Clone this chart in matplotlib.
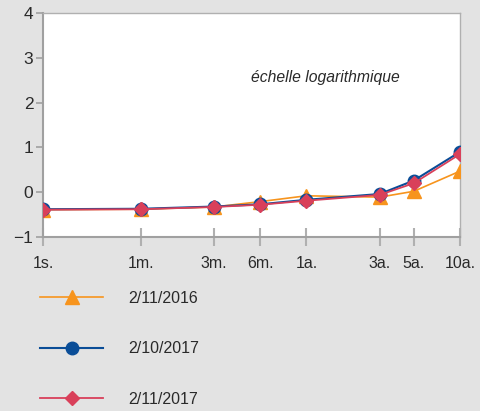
import matplotlib
matplotlib.use("Agg")
import matplotlib.pyplot as plt
import numpy as np

plt.rcParams['font.family'] = ['Liberation Sans', 'DejaVu Sans']

tick_labels = ["1s.", "1m.", "3m.", "6m.", "1a.", "3a.", "5a.", "10a."]
maturities_years = [1/52, 1/12, 0.25, 0.5, 1, 3, 5, 10]
labels = ["2/11/2016", "2/10/2017", "2/11/2017"]
s2016 = [-0.39, -0.38, -0.33, -0.21, -0.08, -0.11, 0.02, 0.47]
s2017_oct = [-0.38, -0.37, -0.32, -0.27, -0.17, -0.04, 0.26, 0.90]
s2017_nov = [-0.39, -0.38, -0.33, -0.28, -0.19, -0.06, 0.20, 0.85]

bg = '#e3e3e3'
fig = plt.figure(figsize=(4.8, 4.11), dpi=100, facecolor=bg)
ax = fig.add_axes([43/480, 1-237/411, (460-43)/480, (237-13)/411])
ax.set_facecolor('white')

ax.plot(maturities_years, s2016, color='#f7941d', lw=1.2, marker='^', ms=10,
        label=labels[0], zorder=3)
ax.plot(maturities_years, s2017_oct, color='#0a4d97', lw=1.5, marker='o', ms=9,
        label=labels[1], zorder=4)
ax.plot(maturities_years, s2017_nov, color='#d9405a', lw=1.3, marker='D', ms=7,
        label=labels[2], zorder=5)

ax.set_xscale('log')
ax.set_xlim(maturities_years[0], maturities_years[-1])
ax.set_ylim(-1, 4)
ax.set_xticks(maturities_years)
ax.set_xticklabels(tick_labels)
ax.xaxis.set_minor_locator(matplotlib.ticker.NullLocator())
ax.set_yticks([-1, 0, 1, 2, 3, 4])
ax.set_yticklabels(['\u22121', '0', '1', '2', '3', '4'])

for side in ['left', 'bottom']:
    ax.spines[side].set_color('#a0a0a0')
    ax.spines[side].set_linewidth(1.5)
for side in ['top', 'right']:
    ax.spines[side].set_color('#b0b0b0')
    ax.spines[side].set_linewidth(1.0)

ax.tick_params(axis='x', direction='inout', length=13, width=1.5, color='#b0b0b0',
               labelsize=11.5, pad=7, labelcolor='#2a2a2a')
ax.tick_params(axis='y', direction='out', length=5, width=1.2, color='#a0a0a0',
               labelsize=12.5, pad=2, labelcolor='#2a2a2a')

ax.text(0.676, 0.714, "échelle logarithmique", transform=ax.transAxes,
        fontsize=11.3, style='italic', ha='center', va='center', color='#2a2a2a')

leg = fig.legend(loc='upper left', bbox_to_anchor=(40/480, 1-291/411),
                 frameon=False, fontsize=11.5, handlelength=3.95,
                 handletextpad=1.6, labelspacing=2.22, borderpad=0,
                 borderaxespad=0, labelcolor='#2a2a2a')

fig.savefig('out.png', dpi=100, facecolor=bg)
